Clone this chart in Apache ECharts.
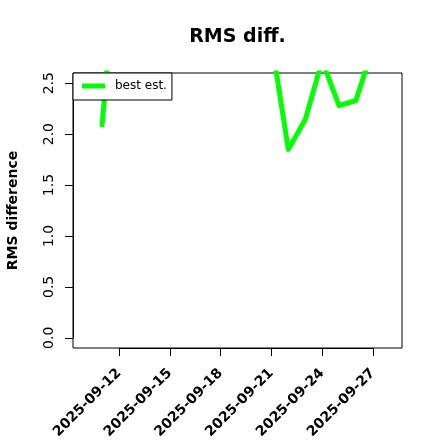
<!DOCTYPE html>
<html>
<head>
<meta charset="utf-8">
<script src="https://cdn.jsdelivr.net/npm/echarts@6/dist/echarts.min.js"></script>
<style>
html,body{margin:0;padding:0;background:#fff;}
#chart{width:440px;height:440px;}
</style>
</head>
<body>
<div id="chart"></div>
<script>
// ---- data ----
var dates = ['2025-09-10','2025-09-11','2025-09-12','2025-09-13','2025-09-14','2025-09-15','2025-09-16',
             '2025-09-17','2025-09-18','2025-09-19','2025-09-20','2025-09-21','2025-09-22','2025-09-23',
             '2025-09-24','2025-09-25','2025-09-26','2025-09-27','2025-09-28'];
var bestEst = [null, 2.09, 4.0, 3.5, 3.2, 3.8, 3.1, 3.6, 3.3, 3.0, 3.4, 2.92, 1.85, 2.14,
               2.72, 2.28, 2.33, 2.85, 2.9];
var xTickLabels = ['2025-09-12','2025-09-15','2025-09-18','2025-09-21','2025-09-24','2025-09-27'];
var yTicks = {min: 0, max: 2.5, step: 0.5};
var seriesName = 'best est.';
var titleText = 'RMS diff.';
var yLabelText = 'RMS difference';

// ---- layout ----
function d(s){ var p = s.split('-'); return new Date(+p[0], +p[1]-1, +p[2]).getTime(); }
var t0 = d(dates[0]), t1 = d(dates[dates.length-1]);
var padT = (t1 - t0) * 0.04;
var yPad = (yTicks.max - yTicks.min) * 0.04;

var box = {left: 73, top: 73, width: 329, height: 275};
var yUnit = box.height / (yTicks.max - yTicks.min + 2*yPad);
var xUnit = box.width / (t1 - t0 + 2*padT);
var xFirst = box.left + (d(xTickLabels[0]) - (t0 - padT)) * xUnit;
var xLast = box.left + (d(xTickLabels[xTickLabels.length-1]) - (t0 - padT)) * xUnit;

var FONT = 'DejaVu Sans';
var seriesData = dates.map(function(s, i){ return [s, bestEst[i] == null ? '-' : bestEst[i]]; });

var chart = echarts.init(document.getElementById('chart'), null, {renderer: 'canvas'});
chart.setOption({
  backgroundColor: '#fff',
  animation: false,
  legend: {
    data: [seriesName], left: 73, top: 73, orient: 'horizontal',
    icon: 'rect', itemWidth: 23, itemHeight: 5,
    padding: [7, 5, 8, 9], borderColor: '#000', borderWidth: 1, borderRadius: 0,
    backgroundColor: '#fff',
    textStyle: {fontFamily: FONT, fontSize: 12, color: '#000', padding: [0,0,0,5]}
  },
  graphic: [{
    type: 'text', x: box.left + box.width/2, y: 37.5,
    style: {text: titleText, align: 'center', verticalAlign: 'middle',
            font: 'bold 19px "DejaVu Sans"', fill: '#000'}
  }, {
    type: 'text', x: 13, y: box.top + box.height/2, rotation: Math.PI/2,
    style: {text: yLabelText, align: 'center', verticalAlign: 'middle',
            font: 'bold 14px "DejaVu Sans"', fill: '#000'}
  }],
  grid: [
    {left: box.left, top: box.top, width: box.width, height: box.height, show: true,
     borderColor: '#000', borderWidth: 1, backgroundColor: 'transparent', containLabel: false, outerBoundsMode: 'none'},
    {left: box.left, top: box.top + yPad*yUnit, width: box.width, height: (yTicks.max - yTicks.min)*yUnit,
     containLabel: false, outerBoundsMode: 'none'},
    {left: xFirst, top: box.top, width: xLast - xFirst, height: box.height,
     containLabel: false, outerBoundsMode: 'none'}
  ],
  xAxis: [
    {gridIndex: 0, type: 'time', min: t0 - padT, max: t1 + padT, show: false},
    {gridIndex: 1, type: 'value', show: false},
    {gridIndex: 2, type: 'category', data: xTickLabels, boundaryGap: false,
     axisLine: {show: true, lineStyle: {color: '#000', width: 1}},
     axisTick: {show: true, length: 8, interval: 0, lineStyle: {color: '#000'}},
     splitLine: {show: false},
     axisLabel: {interval: 0, rotate: 45, margin: 23, fontFamily: FONT, fontWeight: 'bold', fontSize: 14, color: '#000'}}
  ],
  yAxis: [
    {gridIndex: 0, type: 'value', min: yTicks.min - yPad, max: yTicks.max + yPad, show: false},
    {gridIndex: 1, type: 'value', min: yTicks.min, max: yTicks.max, interval: yTicks.step,
     axisLine: {show: true, lineStyle: {color: '#000', width: 1}},
     axisTick: {show: true, length: 8, lineStyle: {color: '#000'}},
     splitLine: {show: false},
     axisLabel: {rotate: 90, margin: 17, fontFamily: FONT, fontSize: 14, color: '#000',
                 showMinLabel: true, showMaxLabel: true,
                 formatter: function(v){ return v.toFixed(1); }}},
    {gridIndex: 2, type: 'value', show: false}
  ],
  series: [{
    name: seriesName, type: 'line', xAxisIndex: 0, yAxisIndex: 0,
    data: seriesData, symbol: 'none', showSymbol: false, clip: true, connectNulls: false,
    itemStyle: {color: '#00ff00'},
    lineStyle: {color: '#00ff00', width: 5, cap: 'round', join: 'round'}
  }]
});
</script>
</body>
</html>
